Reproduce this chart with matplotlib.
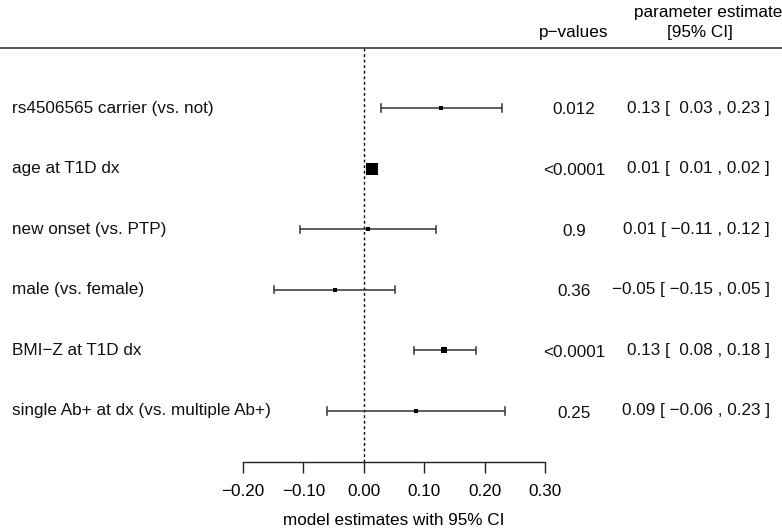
import matplotlib.pyplot as plt

plt.rcParams['font.family'] = ['Liberation Sans', 'DejaVu Sans']

labels = ['rs4506565 carrier (vs. not)', 'age at T1D dx', 'new onset (vs. PTP)',
          'male (vs. female)', 'BMI\u2212Z at T1D dx', 'single Ab+ at dx (vs. multiple Ab+)']
est = [0.128, 0.014, 0.007, -0.047, 0.133, 0.086]
lo = [0.029, 0.010, -0.105, -0.149, 0.083, -0.061]
hi = [0.229, 0.020, 0.119, 0.052, 0.185, 0.233]
pvals = ['0.012', '<0.0001', '0.9', '0.36', '<0.0001', '0.25']
ci_text = ['0.13 [  0.03 , 0.23 ]', '0.01 [  0.01 , 0.02 ]', '0.01 [ \u22120.11 , 0.12 ]',
           '\u22120.05 [ \u22120.15 , 0.05 ]', '0.13 [  0.08 , 0.18 ]', '0.09 [ \u22120.06 , 0.23 ]']
box_px = [4, 11.5, 4, 4, 5.5, 4]   # square size in pixels (weights)
xticks = [-0.2, -0.1, 0.0, 0.1, 0.2, 0.3]

W, H = 782, 530
fig = plt.figure(figsize=(W / 100, H / 100), dpi=100)

# plot area: x from -0.2 (px 243) to 0.3 (px 545), y from header line (48) to axis (462)
ax = fig.add_axes([243 / W, 1 - 462 / H, (545 - 243) / W, (462 - 48) / H])
row_gap = 60.6
ax.set_xlim(-0.2, 0.3)
ax.set_ylim((462 - 108) / row_gap + 1, (48 - 108) / row_gap + 1)
for s in ['top', 'right', 'left']:
    ax.spines[s].set_visible(False)
ax.spines['bottom'].set_linewidth(1.0)
ax.spines['bottom'].set_color('#222222')
ax.set_yticks([])
ax.set_xticks(xticks)
ax.set_xticklabels(['%.2f' % t if t >= 0 else '\u2212%.2f' % abs(t) for t in xticks])
ax.tick_params(axis='x', direction='out', length=8, width=1.0, color='#222222',
               labelsize=12.3, pad=8)
ax.set_xlabel('model estimates with 95% CI', fontsize=12.3, labelpad=10)

ax.axvline(0, color='black', linestyle=(0, (2, 2)), linewidth=1.0)

rows = list(range(1, len(labels) + 1))
for i, r in enumerate(rows):
    ax.plot([lo[i], hi[i]], [r, r], color='#333333', linewidth=1.1, solid_capstyle='butt')
    for xe in (lo[i], hi[i]):
        ax.plot([xe, xe], [r - 0.06, r + 0.06], color='#333333', linewidth=1.1)
    ax.plot(est[i], r, marker='s', color='black', markersize=box_px[i] * 0.72,
            markeredgewidth=0, linestyle='none')

# header line
fig.add_artist(plt.Line2D([0, 1], [1 - 48 / H, 1 - 48 / H], color='#555555', linewidth=1.4))

fs = 12.3
for i, r in enumerate(rows):
    ypx = 108 + row_gap * (r - 1)
    yf = 1 - ypx / H
    fig.text(12 / W, yf, labels[i], fontsize=fs, ha='left', va='center', color='#111111')
    fig.text(574 / W, 1 - (ypx + 2) / H, pvals[i], fontsize=fs, ha='center', va='center',
             color='#111111')
    fig.text(770 / W, yf, ci_text[i], fontsize=fs, ha='right', va='center', color='#111111')

fig.text(574 / W, 1 - 33 / H, 'p\u2212values', fontsize=fs, ha='center', va='center')
fig.text(708 / W, 1 - 13 / H, 'parameter estimate', fontsize=fs, ha='center', va='center')
fig.text(700 / W, 1 - 33 / H, '[95% CI]', fontsize=fs, ha='center', va='center')

fig.savefig('out.png', dpi=100)
